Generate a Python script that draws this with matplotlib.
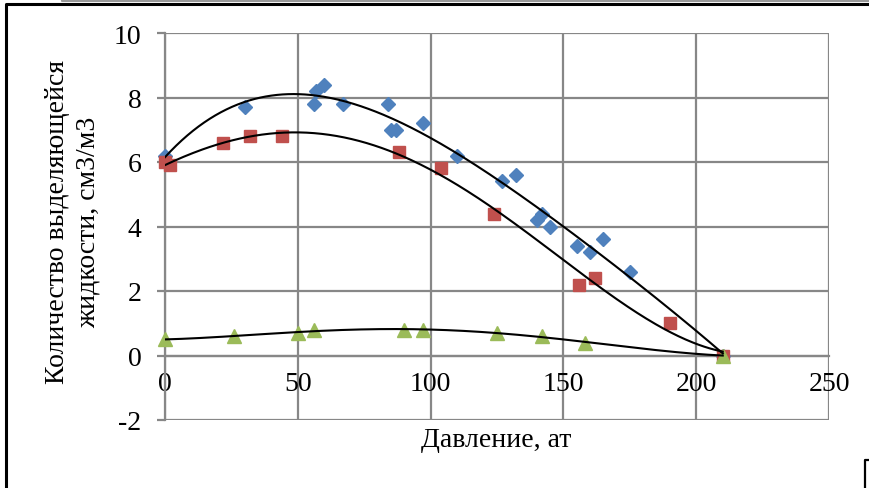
import numpy as np
import matplotlib
matplotlib.use("Agg")
import matplotlib.pyplot as plt
from matplotlib.lines import Line2D

plt.rcParams['font.family'] = ['Liberation Serif', 'DejaVu Serif']
plt.rcParams['axes.unicode_minus'] = False

# Data (pressure, at ; liquid volume, cm3/m3)
blue_x = [0, 30, 56, 57, 60, 67, 84, 85, 87, 97, 110, 127, 132, 140, 142, 145, 155, 160, 165, 175, 210]
blue_y = [6.2, 7.7, 7.8, 8.2, 8.4, 7.8, 7.8, 7.0, 7.0, 7.2, 6.2, 5.4, 5.6, 4.2, 4.4, 4.0, 3.4, 3.2, 3.6, 2.6, 0.0]

red_x = [0, 2, 22, 32, 44, 88, 104, 124, 156, 162, 190, 210]
red_y = [6.0, 5.9, 6.6, 6.8, 6.8, 6.3, 5.8, 4.4, 2.2, 2.4, 1.0, 0.0]

green_x = [0, 26, 50, 56, 90, 97, 125, 142, 158, 210]
green_y = [0.5, 0.6, 0.7, 0.8, 0.8, 0.8, 0.7, 0.6, 0.4, 0.0]

x_ticks = [0, 50, 100, 150, 200, 250]
y_ticks = [-2, 0, 2, 4, 6, 8, 10]
x_label = "Давление, ат"
y_label = "Количество выделяющейся\nжидкости, см3/м3"

W, H = 869, 489
fig = plt.figure(figsize=(W / 100, H / 100), dpi=100)
ax = fig.add_axes([165 / W, 1 - 421 / H, (829 - 165) / W, (421 - 34) / H])

FS = 20
grid_c = '#878787'
ax.set_xlim(0, 250)
ax.set_ylim(-2, 10)
ax.set_xticks(x_ticks)
ax.set_yticks(y_ticks)
ax.grid(True, color=grid_c, linewidth=1.6, zorder=0)
ax.set_axisbelow(True)
for s in ['top', 'right']:
    ax.spines[s].set_visible(False)
ax.spines['left'].set_color(grid_c)
ax.spines['left'].set_linewidth(1.6)
ax.spines['bottom'].set_position(('data', 0))
ax.spines['bottom'].set_color(grid_c)
ax.spines['bottom'].set_linewidth(1.6)
ax.tick_params(axis='y', direction='out', length=6, width=1.6, color=grid_c,
               pad=11, labelsize=FS)
ax.tick_params(axis='x', length=0, pad=11, labelsize=FS)

def trend(xs, ys, deg=4):
    c = np.polyfit(xs, ys, deg)
    xx = np.linspace(min(xs), max(xs), 300)
    return xx, np.polyval(c, xx)

for xs, ys in [(blue_x, blue_y), (red_x, red_y), (green_x, green_y)]:
    xx, yy = trend(xs, ys)
    ax.plot(xx, yy, color='black', linewidth=1.5, zorder=4)

ax.plot(blue_x, blue_y, linestyle='none', marker='D', ms=7.5, color='#4F81BD', zorder=3, clip_on=False)
ax.plot(red_x, red_y, linestyle='none', marker='s', ms=9, color='#C0504D', zorder=3, clip_on=False)
ax.plot(green_x, green_y, linestyle='none', marker='^', ms=10, color='#9BBB59', zorder=3, clip_on=False)

fig.text(496 / W, 1 - 441 / H, x_label, ha='center', va='center', fontsize=FS)
fig.text(73 / W, 1 - 222 / H, y_label, ha='center', va='center', rotation=90,
         fontsize=FS, multialignment='center', linespacing=1.3)

# chart frame / screenshot edges
def fl(xs, ys, c='black', lw=2.0):
    fig.add_artist(Line2D([x / W for x in xs], [1 - y / H for y in ys],
                          color=c, linewidth=lw, transform=fig.transFigure))

fl([6, 6, W], [H, 5, 5], lw=2.2)
fl([62, 62, W], [0, 1.5, 1.5], c='#999999', lw=1.5)
fl([865, 865, W], [H, 461, 461], lw=1.6)

fig.savefig('out.png', dpi=100)
